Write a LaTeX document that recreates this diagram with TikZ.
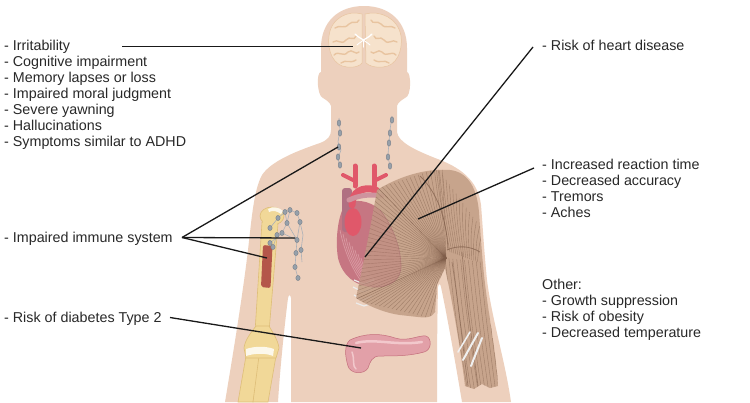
\documentclass[tikz,border=0pt]{standalone}
\usepackage{fontspec}
\setmainfont{Liberation Sans}
\usetikzlibrary{calc}
\definecolor{skin}{RGB}{237,208,189}
\definecolor{txt}{RGB}{40,40,40}
\definecolor{brainc}{RGB}{246,226,204}
\definecolor{gyri}{RGB}{232,196,160}
\definecolor{bonec}{RGB}{241,216,152}
\definecolor{boneline}{RGB}{222,190,120}
\definecolor{marrow}{RGB}{180,86,74}
\definecolor{lymphc}{RGB}{150,160,170}
\definecolor{lymphl}{RGB}{120,128,138}
\definecolor{lymphv}{RGB}{170,176,184}
\definecolor{heartc}{RGB}{198,118,130}
\definecolor{heartl}{RGB}{226,170,176}
\definecolor{artery}{RGB}{224,88,106}
\definecolor{vein}{RGB}{176,112,130}
\definecolor{musclec}{RGB}{194,158,134}
\definecolor{fiber}{RGB}{128,94,74}
\definecolor{pancc}{RGB}{226,160,168}
\definecolor{pancl}{RGB}{242,200,204}
\definecolor{pancd}{RGB}{196,110,124}
\definecolor{conn}{RGB}{25,25,25}
\newcommand{\muscleshape}{(377,190) .. controls (398,177) and (425,168) .. (450,170)
  .. controls (468,172) and (477,188) .. (479,212)
  .. controls (481,240) and (482,255) .. (484,275)
  .. controls (489,320) and (496,350) .. (498,386)
  -- (490,388) -- (482,384) -- (474,389) -- (465,386)
  .. controls (460,345) and (452,300) .. (445,268)
  -- (437,285) -- (435,312) .. controls (432,318) and (425,318) .. (418,317)
  -- (400,315) .. controls (385,313) and (368,306) .. (356,298)
  .. controls (362,270) and (370,230) .. (377,190) -- cycle}
\newcommand{\heartshape}{(345,205) .. controls (338,215) and (335,240) .. (338,258)
  .. controls (342,275) and (355,286) .. (372,287) .. controls (390,288) and (402,280) .. (401,264)
  .. controls (400,245) and (392,225) .. (380,210) .. controls (370,200) and (352,198) .. (345,205) -- cycle}
\tikzset{
  lbl/.style={anchor=base west, inner sep=0pt, font=\fontsize{14.3}{16}\selectfont, text=txt},
  connector/.style={draw=conn, line width=1.3pt},
  fib/.style={draw=fiber, line width=0.4pt, opacity=0.55},
  lnode/.style={fill=lymphc, draw=lymphl, line width=0.4pt},
  lvess/.style={draw=lymphv, line width=0.6pt},
  bonestyle/.style={fill=bonec, draw=boneline, line width=0.6pt},
}
\begin{document}
\begin{tikzpicture}[x=1pt,y=-1pt]
\useasboundingbox (0,0) rectangle (750,402);
\fill[white] (0,0) rectangle (750,402);

% body silhouette
\fill[skin] (364,6) .. controls (390,6) and (407,22) .. (407,48) -- (407,72)
 .. controls (411,72) and (412,96) .. (405,98)
 .. controls (402,100) and (398,102) .. (397,106)
 -- (397,132)
 .. controls (398,142) and (415,150) .. (435,158)
 .. controls (460,167) and (478,180) .. (481,205)
 .. controls (483,230) and (484,250) .. (487,280)
 .. controls (492,320) and (505,360) .. (511,402)
 -- (462,402)
 .. controls (455,360) and (446,310) .. (441,287)
 .. controls (440,283) and (439,283) .. (438,287)
 .. controls (437,330) and (437,370) .. (437,402)
 -- (291,402)
 .. controls (291,370) and (291,330) .. (291,298)
 .. controls (290,294) and (289,294) .. (288,298)
 .. controls (284,330) and (280,370) .. (278,402)
 -- (225,402)
 .. controls (232,360) and (242,300) .. (248,250)
 .. controls (252,215) and (254,190) .. (262,175)
 .. controls (272,160) and (300,150) .. (320,143)
 .. controls (328,140) and (331,136) .. (331,130)
 -- (331,106)
 .. controls (330,102) and (326,100) .. (323,98)
 .. controls (317,96) and (316,72) .. (321,72)
 -- (321,48)
 .. controls (321,22) and (338,6) .. (364,6) -- cycle;

% brain
\fill[brainc, draw=gyri, line width=0.5pt] (362,14) .. controls (348,10) and (331,18) .. (329,36)
  .. controls (327,52) and (334,66) .. (347,67) .. controls (354,68) and (360,66) .. (362,63) -- cycle;
\fill[brainc, draw=gyri, line width=0.5pt] (365,14) .. controls (380,10) and (398,18) .. (401,36)
  .. controls (403,52) and (396,66) .. (383,67) .. controls (376,68) and (369,66) .. (366,63) -- cycle;
\begin{scope}[draw=gyri, line width=1.4pt, line cap=round]
\draw (335,28) .. controls (340,24) and (344,30) .. (349,24) .. controls (353,20) and (357,25) .. (359,20);
\draw (333,42) .. controls (338,38) and (341,46) .. (346,40) .. controls (350,35) and (354,42) .. (356,36);
\draw (334,55) .. controls (339,50) and (343,58) .. (348,52) .. controls (352,48) and (356,56) .. (359,52);
\draw (341,63) .. controls (346,59) and (350,64) .. (356,60);
\draw (395,28) .. controls (390,24) and (386,30) .. (381,24) .. controls (377,20) and (373,25) .. (371,20);
\draw (397,42) .. controls (392,38) and (389,46) .. (384,40) .. controls (380,35) and (376,42) .. (374,36);
\draw (396,55) .. controls (391,50) and (387,58) .. (382,52) .. controls (378,48) and (374,56) .. (371,52);
\draw (389,63) .. controls (384,59) and (380,64) .. (374,60);
\end{scope}
\draw[white, line width=1.3pt, line cap=round] (355,34) .. controls (359,38) and (361,38) .. (363.5,40) .. controls (366,38) and (368,38) .. (372,34);
\draw[white, line width=1.1pt, line cap=round] (363.5,40) -- (363.5,47);
\draw[white, line width=0.9pt, line cap=round] (357,45) .. controls (360,42) and (362,42) .. (363.5,40) .. controls (365,42) and (367,42) .. (370,45);

% neck lymph nodes
\draw[lvess] (339,118) -- (340,130) -- (338,142) -- (341,150) -- (338,158) -- (340,168);
\draw[lvess] (392,116) -- (390,130) -- (389,142) -- (388,155) -- (390,168);
\foreach \p in {(339,123),(340,133),(339,147),(338,157),(340,165)}
  \draw[lnode] \p ellipse [x radius=1.8pt, y radius=3.2pt];
\foreach \p in {(392,120),(390,133),(389,143),(388,157),(390,166)}
  \draw[lnode] \p ellipse [x radius=1.8pt, y radius=3.2pt];

% bones of the left arm
\draw[bonestyle] (246,356) -- (261,356) -- (253,402) -- (238,402) -- cycle;
\draw[bonestyle] (259,356) -- (276,356) -- (268,402) -- (253,402) -- cycle;
\draw[bonestyle] (262,222) -- (278,224) -- (269,332) -- (255,332) -- cycle;
\draw[bonestyle] (272,216) ellipse [x radius=12pt, y radius=9pt];
\fill[bonec] (263,221) -- (277,223) -- (276,232) -- (262,232) -- cycle;
\draw[bonestyle] (256,326) .. controls (250,334) and (245,340) .. (244,348) -- (246,358) -- (276,358)
  -- (279,348) .. controls (278,340) and (273,333) .. (269,326) -- cycle;
\fill[white!82!bonec] (246,349) .. controls (255,346) and (266,346) .. (274,349) -- (273,356)
  .. controls (266,353) and (255,353) .. (246,356) -- cycle;
\fill[white!80!bonec] (268,209) .. controls (273,206) and (279,207) .. (283,211) -- (281,214) .. controls (277,211) and (273,210) .. (269,212) -- cycle;
\fill[marrow, rounded corners=2pt] (263,245) -- (272.5,246) -- (270.5,288) -- (261,287) -- cycle;

% armpit lymph nodes
\draw[lvess] (270,228) -- (278,218) -- (285,212) -- (290,210) -- (297,213) -- (300,222) -- (297,240) -- (296,253) -- (295,267) -- (298,278);
\draw[lvess] (273,247) -- (277,235) -- (282,233) -- (287,223) -- (290,210);
\draw[lvess] (270,243) -- (282,233) -- (297,240);
\draw[lvess] (285,212) -- (287,223) -- (297,240);
\draw[lvess] (300,222) -- (303,235) -- (301,250) -- (302,262);
\foreach \p in {(270,228),(273,247),(270,243),(278,218),(285,212),(290,210),(297,213),(300,222),(297,240),(296,253),(295,267),(298,278),(287,223),(282,233),(277,235),(301,250)}
  \draw[lnode] \p ellipse [x radius=2.2pt, y radius=2.6pt];

% heart
\fill[heartc] \heartshape;
\begin{scope}
\clip \heartshape;
\foreach \i in {0,...,7} \draw[heartl, line width=0.7pt, opacity=0.7] (340+\i*3,230+\i*4) .. controls (345+\i*3,255+\i*3) and (355+\i*2,275) .. (368+\i*3,290);
\end{scope}
\fill[vein, rounded corners=3pt] (342,188) rectangle (352,232);
\draw[artery, line width=5pt, line cap=round] (355,186) -- (355,166);
\draw[artery, line width=4pt, line cap=round] (355,181) -- (343,175);
\draw[artery, line width=5pt, line cap=round] (374,186) -- (374,166);
\draw[artery, line width=4pt, line cap=round] (374,181) -- (386,175);
\draw[artery, line width=7pt, line cap=round] (352,205) .. controls (352,192) and (362,186) .. (376,190);
\draw[heartl!60!vein, line width=5pt, line cap=round] (349,200) .. controls (360,195) and (370,194) .. (382,196);
\fill[artery] (353,222) ellipse [x radius=8.5pt, y radius=14pt];

% ribs
\begin{scope}[draw=white!85!gray, line width=1.2pt]
\draw (354,280) -- (364,284) -- (374,280);
\draw (353,287) -- (363,292) -- (373,288);
\draw (354,295) -- (363,300) -- (372,296);
\draw (356,303) -- (364,306) -- (370,304);
\end{scope}

% muscles
\fill[musclec, opacity=0.88] \muscleshape;
\begin{scope}
\clip \muscleshape;
\foreach \t in {0,0.04,...,1.001} \draw[fib] (446,258) -- ($(378,188)!\t!(354,300)$);
\foreach \t in {0,0.05,...,1.001} \draw[fib] (446,258) -- ($(354,300)!\t!(438,320)$);
\foreach \t in {0,0.06,...,1.001} \draw[fib] (446,258) -- ($(378,188)!\t!(445,166)$);
\foreach \t in {0,0.07,...,1.001} \draw[fib] ($(436,166)!\t!(484,232)$) .. controls ($(440,200)!\t!(480,245)$) .. ($(450,252)!\t!(478,262)$);
\foreach \k in {0,...,10} \draw[fib] ($(445,258)!\k/10!(484,262)$) .. controls ($(452,320)!\k/10!(490,320)$) .. ($(464,390)!\k/10!(499,390)$);
\draw[fiber, line width=0.8pt, opacity=0.7] (420,176) .. controls (440,195) and (447,225) .. (448,250);
\draw[fiber, line width=0.8pt, opacity=0.7] (447,250) .. controls (458,245) and (470,246) .. (480,252);
\draw[fiber, line width=0.7pt, opacity=0.6] (462,252) .. controls (466,300) and (472,340) .. (478,386);
\draw[fiber, line width=0.7pt, opacity=0.6] (452,262) .. controls (458,300) and (462,340) .. (468,386);
\fill[heartc, opacity=0.22] \heartshape;
\end{scope}
\draw[heartc!80!black, line width=0.6pt, opacity=0.45] (372,287) .. controls (390,288) and (402,280) .. (401,264) .. controls (400,245) and (392,225) .. (380,210);
\draw[white!88!gray, line width=2pt, line cap=round] (478,333) -- (463,360);
\draw[white!88!gray, line width=2pt, line cap=round] (482,338) -- (471,366);
\draw[white!88!gray, line width=1.6pt, line cap=round] (470,332) -- (458,352);

% pancreas
\fill[pancc, draw=pancd, line width=0.5pt] (350,340) .. controls (365,333) and (380,333) .. (395,338)
  .. controls (408,342) and (418,335) .. (426,336) .. controls (432,338) and (432,350) .. (424,352)
  .. controls (410,356) and (395,356) .. (380,356) .. controls (372,356) and (370,362) .. (368,368)
  .. controls (364,375) and (350,374) .. (348,366) .. controls (345,356) and (344,345) .. (350,340) -- cycle;
\draw[pancl, line width=2.5pt, line cap=round] (356,343) .. controls (375,338) and (395,346) .. (422,342);
\draw[pancl, line width=1.5pt, line cap=round] (352,352) .. controls (355,360) and (352,366) .. (356,369);

% texts
\node[lbl] (t1) at (4,50) {- Irritability};
\node[lbl] (t2) at (4,66) {- Cognitive impairment};
\node[lbl] (t3) at (4,82) {- Memory lapses or loss};
\node[lbl] (t4) at (4,98) {- Impaired moral judgment};
\node[lbl] (t5) at (4,114) {- Severe yawning};
\node[lbl] (t6) at (4,130) {- Hallucinations};
\node[lbl] (t7) at (4,146) {- Symptoms similar to ADHD};
\node[lbl] (t8) at (4,242) {- Impaired immune system};
\node[lbl] (t9) at (4,322) {- Risk of diabetes Type 2};
\node[lbl] (r1) at (542,50) {- Risk of heart disease};
\node[lbl] (r2) at (542,169) {- Increased reaction time};
\node[lbl] (r3) at (542,185) {- Decreased accuracy};
\node[lbl] (r4) at (542,201) {- Tremors};
\node[lbl] (r5) at (542,217) {- Aches};
\node[lbl] (o1) at (542,289) {Other:};
\node[lbl] (o2) at (542,305) {- Growth suppression};
\node[lbl] (o3) at (542,321) {- Risk of obesity};
\node[lbl] (o4) at (542,337) {- Decreased temperature};

% connector end points
\coordinate (brainS) at (122,46.7);
\coordinate (brainE) at (353,46.7);
\coordinate (heartS) at (533,47);
\coordinate (heartE) at (365,257);
\coordinate (muscS) at (534,168);
\coordinate (muscE) at (418,219);
\coordinate (hub) at (182,237.5);
\coordinate (neckL) at (338,147);
\coordinate (axL) at (295,238);
\coordinate (marrowE) at (267,258);
\coordinate (diabS) at (170,317.5);
\coordinate (pancE) at (361,348);

\draw[connector] (brainS) -- (brainE);
\draw[connector] (heartS) -- (heartE);
\draw[connector] (muscS) -- (muscE);
\draw[connector] (hub) -- (neckL);
\draw[connector] (hub) -- (axL);
\draw[connector] (hub) -- (marrowE);
\draw[connector] (diabS) -- (pancE);
\end{tikzpicture}
\end{document}
